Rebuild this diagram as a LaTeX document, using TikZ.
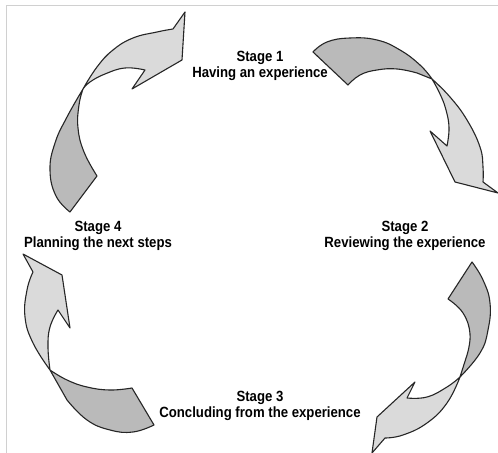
\documentclass[tikz,border=0pt]{standalone}
\usepackage{fontspec}
\setmainfont{Liberation Sans}[FakeStretch=0.89]
\definecolor{darkpart}{HTML}{BABABA}
\definecolor{lightpart}{HTML}{DADADA}
\definecolor{framegray}{HTML}{D0D0D0}
\tikzset{
  tailpart/.style={fill=darkpart, draw=black!85, line width=0.55pt, line join=round},
  headpart/.style={fill=lightpart, draw=black!85, line width=0.55pt, line join=round},
  stagelabel/.style={font=\bfseries\fontsize{7.4}{8.3}\selectfont, align=center, inner sep=0pt},
  edge/.style={smooth, tension=0.75}
}
\begin{document}
\begin{tikzpicture}[x=0.5pt, y=-0.5pt]
\useasboundingbox (0,0) rectangle (498,453);
\fill[white] (0,0) rectangle (498,453);
% frame
\draw[framegray, line width=0.5pt] (6,453) -- (6,6) -- (498,6);

% arrow Stage 4 -> Stage 1 (top left)
\path[tailpart] plot[edge] coordinates {(83,89) (67,117) (55,143) (50,170) (56,196) (70,212)}
  -- plot[edge] coordinates {(97,176) (84,152) (78,128) (79,105) (83,89)} -- cycle;
\path[headpart] plot[edge] coordinates {(83,89) (97,67) (113,50) (133,38) (157,32) (173,29)}
  -- (185,12) -- (182,60) -- (132,89) -- plot[edge] coordinates {(145,70) (125,68) (105,74) (90,82) (83,89)} -- cycle;

% arrow Stage 1 -> Stage 2 (top right)
\path[tailpart] plot[edge] coordinates {(313,52) (327,42) (350,38) (377,40) (400,50) (420,65) (432,79)}
  -- plot[edge] coordinates {(417,73) (397,69) (377,70) (360,75) (348,85)} -- cycle;
\path[headpart] plot[edge] coordinates {(432,79) (450,97) (467,120) (480,147) (483,167) (483,182)}
  -- (498,193) -- (455,182) -- (430,131) -- plot[edge] coordinates {(447,146) (449,128) (446,110) (440,94) (432,79)} -- cycle;

% arrow Stage 2 -> Stage 3 (bottom right)
\path[tailpart] plot[edge] coordinates {(472,262) (483,280) (490,303) (488,330) (480,353) (460,377)}
  -- plot[edge] coordinates {(467,355) (470,334) (463,313) (448,299)} -- cycle;
\path[headpart] plot[edge] coordinates {(460,377) (447,403) (427,423) (403,435) (385,438)}
  -- (372,453) -- (377,417) -- (415,382) -- plot[edge] coordinates {(407,398) (427,397) (447,387) (460,377)} -- cycle;

% arrow Stage 3 -> Stage 4 (bottom left)
\path[tailpart] plot[edge] coordinates {(132,388) (110,390) (87,387) (67,380) (50,370)}
  -- plot[edge] coordinates {(67,400) (87,420) (110,430) (133,432) (154,425)} -- cycle;
\path[headpart] plot[edge] coordinates {(50,370) (33,343) (25,317) (27,290) (33,272)}
  -- (23,254) -- (62,275) -- (70,328) -- plot[edge] coordinates {(58,310) (50,327) (48,347) (50,370)} -- cycle;

% labels
\node[stagelabel] (s1) at (260,66) {Stage 1\\Having an experience};
\node[stagelabel] (s2) at (405,236) {Stage 2\\Reviewing the experience};
\node[stagelabel] (s3) at (260,406) {Stage 3\\Concluding from the experience};
\node[stagelabel] (s4) at (98,236) {Stage 4\\Planning the next steps};
\end{tikzpicture}
\end{document}
